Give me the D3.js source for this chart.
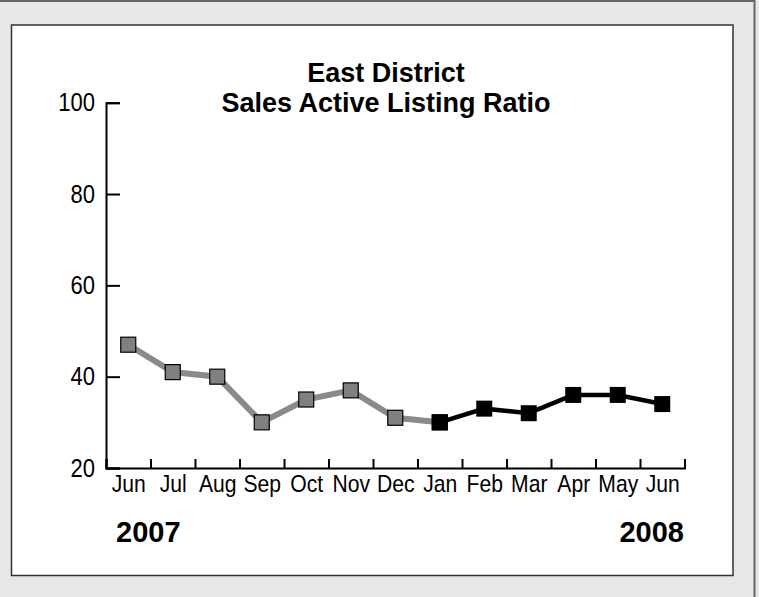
<!DOCTYPE html>
<html>
<head>
<meta charset="utf-8">
<script src="https://cdn.jsdelivr.net/npm/d3@7"></script>
<style>
  body { margin: 0; background: #e6e7e8; }
  svg { display: block; }
  text { font-family: Arial, "Liberation Sans", sans-serif; }
</style>
</head>
<body>
<div id="chart"></div>
<script>
var months = ["Jun", "Jul", "Aug", "Sep", "Oct", "Nov", "Dec", "Jan", "Feb", "Mar", "Apr", "May", "Jun"];
var ratio2007 = [47, 41, 40, 30, 35, 37, 31, 30];
var ratio2008 = [30, 33, 32, 36, 36, 34];
var yTicks = [20, 40, 60, 80, 100];
var titleLines = ["East District", "Sales Active Listing Ratio"];
var yearLabels = ["2007", "2008"];

var w = 759,
    h = 597,
    squeeze = 0.88;   // the original type is a bit condensed

var svg = d3.select("#chart").append("svg")
    .attr("width", w)
    .attr("height", h);

// outer frame
svg.append("rect")
    .attr("width", w)
    .attr("height", h)
    .style("fill", "#e6e7e8");
svg.append("line")
    .attr("x1", 0).attr("y1", 1).attr("x2", 755).attr("y2", 1)
    .style("stroke", "#666").style("stroke-width", 2);
svg.append("line")
    .attr("x1", 754.5).attr("y1", 0).attr("x2", 754.5).attr("y2", h)
    .style("stroke", "#666").style("stroke-width", 2);

// white panel
svg.append("rect")
    .attr("x", 11.5)
    .attr("y", 25)
    .attr("width", 721.5)
    .attr("height", 550.5)
    .style("fill", "#ffffff")
    .style("stroke", "#333")
    .style("stroke-width", 1.5);

var x = d3.scaleLinear()
    .domain([0, months.length])
    .range([106, 684.5]);

var y = d3.scaleLinear()
    .domain([20, 100])
    .range([468, 102.7]);

// y axis
var yAxis = svg.append("g")
    .attr("transform", "translate(106,0)")
    .call(d3.axisLeft(y).tickValues(yTicks).tickSize(-14).tickPadding(11));
yAxis.selectAll("text")
    .attr("x", -11 / squeeze)
    .attr("transform", "scale(" + squeeze + ",1)")
    .style("font-size", "25px")
    .style("fill", "#000");

// x axis ticks at month boundaries
var xAxis = svg.append("g")
    .attr("transform", "translate(0,468)")
    .call(d3.axisBottom(x).tickValues(d3.range(months.length + 1)).tickSize(-9).tickFormat(""));

// month labels at centres
var xLabels = svg.append("g")
    .attr("transform", "translate(0,468)")
    .call(d3.axisBottom(x)
        .tickValues(d3.range(months.length).map(function(i) { return i + 0.5; }))
        .tickSize(0).tickPadding(7)
        .tickFormat(function(d) { return months[Math.floor(d)]; }));
xLabels.select(".domain").remove();
xLabels.selectAll("text")
    .attr("transform", "scale(" + squeeze + ",1)")
    .style("font-size", "24px")
    .style("fill", "#000");

svg.selectAll(".domain, .tick line")
    .style("stroke", "#000")
    .style("stroke-width", 2);

var line = d3.line()
    .x(function(d) { return x(d.i + 0.5); })
    .y(function(d) { return y(d.v); });

var data07 = ratio2007.map(function(v, i) { return {i: i, v: v}; });
var data08 = ratio2008.map(function(v, i) { return {i: i + 7, v: v}; });

svg.append("path")
    .datum(data07)
    .attr("d", line)
    .style("fill", "none")
    .style("stroke", "#8a8a8a")
    .style("stroke-width", 6);

svg.selectAll(".m07")
    .data(data07)
    .enter().append("rect")
    .attr("class", "m07")
    .attr("x", function(d) { return x(d.i + 0.5) - 7.5; })
    .attr("y", function(d) { return y(d.v) - 7.5; })
    .attr("width", 15)
    .attr("height", 15)
    .style("fill", "#808080")
    .style("stroke", "#000")
    .style("stroke-width", 1.2);

svg.append("path")
    .datum(data08)
    .attr("d", line)
    .style("fill", "none")
    .style("stroke", "#000")
    .style("stroke-width", 4.5);

svg.selectAll(".m08")
    .data(data08)
    .enter().append("rect")
    .attr("class", "m08")
    .attr("x", function(d) { return x(d.i + 0.5) - 8; })
    .attr("y", function(d) { return y(d.v) - 8; })
    .attr("width", 16)
    .attr("height", 16)
    .style("fill", "#000");

// title
svg.selectAll(".title")
    .data(titleLines)
    .enter().append("text")
    .attr("class", "title")
    .attr("x", 386)
    .attr("y", function(d, i) { return 82 + i * 30; })
    .attr("text-anchor", "middle")
    .style("font-size", "27px")
    .style("font-weight", "bold")
    .text(function(d) { return d; });

// years
svg.selectAll(".year")
    .data(yearLabels)
    .enter().append("text")
    .attr("class", "year")
    .attr("x", function(d, i) { return i == 0 ? 116 : 684; })
    .attr("y", 542)
    .attr("text-anchor", function(d, i) { return i == 0 ? "start" : "end"; })
    .style("font-size", "29px")
    .style("font-weight", "bold")
    .text(function(d) { return d; });
</script>
</body>
</html>
